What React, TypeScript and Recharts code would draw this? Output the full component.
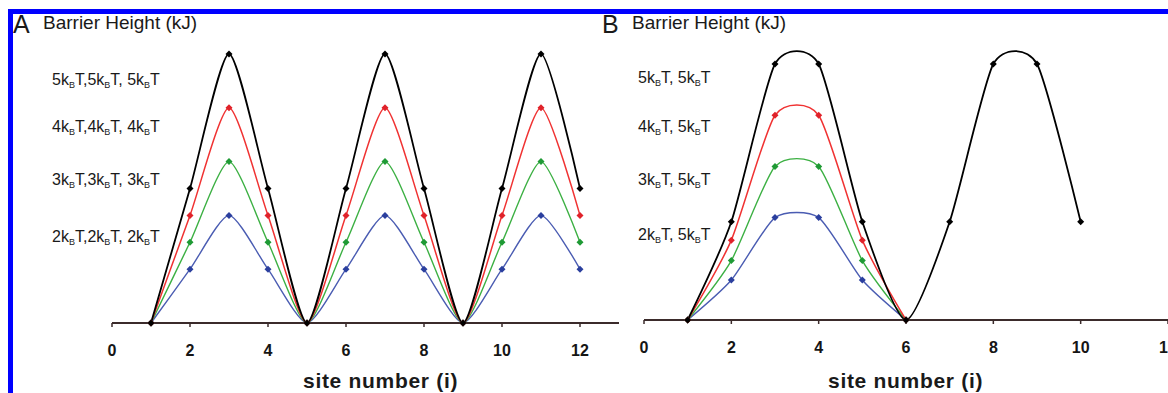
import React from 'react';
import { LineChart, Line, XAxis, YAxis } from 'recharts';

// barrier heights in kJ (kBT ~ 2.5 kJ)
const sitesA = [1, 2, 3, 4, 5, 6, 7, 8, 9, 10, 11, 12];
const blackA = [0, 6.25, 12.5, 6.25, 0, 6.25, 12.5, 6.25, 0, 6.25, 12.5, 6.25];
const redA = [0, 5, 10, 5, 0, 5, 10, 5, 0, 5, 10, 5];
const greenA = [0, 3.75, 7.5, 3.75, 0, 3.75, 7.5, 3.75, 0, 3.75, 7.5, 3.75];
const blueA = [0, 2.5, 5, 2.5, 0, 2.5, 5, 2.5, 0, 2.5, 5, 2.5];

const sitesB = [1, 2, 3, 4, 5, 6, 7, 8, 9, 10];
const blackB = [0, 4.8, 12.5, 12.5, 4.8, 0, 4.8, 12.5, 12.5, 4.8];
const redB = [0, 3.9, 10, 10, 3.9, 0];
const greenB = [0, 2.9, 7.5, 7.5, 2.9, 0];
const blueB = [0, 1.95, 5, 5, 1.95, 0];

const siteTicks = [0, 2, 4, 6, 8, 10, 12];

const barriersA = [[5, 5, 5], [4, 4, 4], [3, 3, 3], [2, 2, 2]];
const barriersB = [[5, 5], [4, 5], [3, 5], [2, 5]];

const dataA = sitesA.map((site, i) => ({
  site,
  black: blackA[i],
  red: redA[i],
  green: greenA[i],
  blue: blueA[i]
}));

const dataB = sitesB.map((site, i) => ({
  site,
  black: blackB[i],
  red: redB[i],
  green: greenB[i],
  blue: blueB[i]
}));

const SERIES = [
  { key: 'blue', line: '#4a5cb2', dot: '#2b3f9e', width: 1.4 },
  { key: 'green', line: '#3cb043', dot: '#1f9a35', width: 1.4 },
  { key: 'red', line: '#f03232', dot: '#e0222a', width: 1.5 },
  { key: 'black', line: '#000000', dot: '#000000', width: 1.8 }
];

const AXIS = '#3b2b2b';
const FONT = '"Liberation Sans", Arial, sans-serif';

// spreadsheet-style smoothed line (cardinal spline)
function smoothCurve(tension: number) {
  const k = (1 - tension) / 6;
  return (context: any) => {
    let x0 = NaN, y0 = NaN, x1 = NaN, y1 = NaN, x2 = NaN, y2 = NaN;
    let count = 0;
    const seg = (x: number, y: number) => {
      context.bezierCurveTo(
        x1 + k * (x2 - x0), y1 + k * (y2 - y0),
        x2 + k * (x1 - x), y2 + k * (y1 - y),
        x2, y2
      );
    };
    return {
      areaStart() {},
      areaEnd() {},
      lineStart() {
        x0 = x1 = x2 = y0 = y1 = y2 = NaN;
        count = 0;
      },
      lineEnd() {
        if (count === 2) context.lineTo(x2, y2);
        else if (count === 3) seg(x1, y1);
      },
      point(xv: number, yv: number) {
        const x = +xv;
        const y = +yv;
        if (count === 0) {
          count = 1;
          context.moveTo(x, y);
        } else if (count === 1) {
          count = 2;
          x1 = x;
          y1 = y;
        } else {
          count = 3;
          seg(x, y);
        }
        x0 = x1; x1 = x2; x2 = x;
        y0 = y1; y1 = y2; y2 = y;
      }
    };
  };
}

const curve = smoothCurve(0.34);

const diamond = (fill: string, r = 3.5) => (p: any) => {
  const { cx, cy, index } = p;
  if (cx == null || cy == null || isNaN(cy)) return <g key={`d-${index}`} />;
  return (
    <path
      key={`d-${index}`}
      d={`M${cx},${cy - r}L${cx + r},${cy}L${cx},${cy + r}L${cx - r},${cy}Z`}
      fill={fill}
    />
  );
};

function KT({ n }: { n: number }) {
  return (
    <span>
      {n}k
      <span style={{ fontSize: 9, position: 'relative', top: 3 }}>B</span>T
    </span>
  );
}

function BarrierLabel({ values, seps }: { values: number[]; seps: string[] }) {
  return (
    <>
      {values.map((v, i) => (
        <React.Fragment key={i}>
          {i > 0 && seps[i - 1]}
          <KT n={v} />
        </React.Fragment>
      ))}
    </>
  );
}

function Panel({
  data, domain, left, width, margin
}: {
  data: any[];
  domain: number[];
  left: number;
  width: number;
  margin: { top: number; right: number; bottom: number; left: number };
}) {
  return (
    <div style={{ position: 'absolute', left, top: 14 }}>
      <LineChart width={width} height={379} data={data} margin={margin}>
        <XAxis
          type="number"
          dataKey="site"
          domain={domain}
          ticks={siteTicks}
          interval={0}
          allowDataOverflow
          height={30}
          tickSize={4}
          tickMargin={18}
          axisLine={{ stroke: AXIS, strokeWidth: 2 }}
          tickLine={{ stroke: AXIS, strokeWidth: 1.5 }}
          tick={{ fill: '#151515', fontSize: 16, fontWeight: 'bold', fontFamily: FONT }}
        />
        <YAxis hide type="number" domain={[0, 13]} />
        {SERIES.map(s => (
          <Line
            key={s.key}
            dataKey={s.key}
            type={curve as any}
            stroke={s.line}
            strokeWidth={s.width}
            dot={diamond(s.dot)}
            activeDot={false}
            isAnimationActive={false}
          />
        ))}
      </LineChart>
    </div>
  );
}

const textBase: React.CSSProperties = {
  position: 'absolute',
  whiteSpace: 'nowrap',
  fontFamily: FONT,
  color: '#1a1a1a'
};

const titleStyle: React.CSSProperties = {
  ...textBase,
  top: 370,
  fontSize: 21,
  lineHeight: '21px',
  fontWeight: 'bold',
  letterSpacing: 0.7
};

const rowsA = [80, 127, 180, 237];
const rowsB = [78, 127, 180, 235];

export default function App() {
  return (
    <div
      style={{
        position: 'fixed',
        left: 0,
        top: 0,
        width: 1168,
        height: 393,
        overflow: 'hidden',
        background: '#ffffff',
        fontFamily: FONT
      }}
    >
      <Panel
        data={dataA}
        domain={[0, 13]}
        left={60}
        width={580}
        margin={{ top: 29.2, right: 21, bottom: 40, left: 52 }}
      />
      <Panel
        data={dataB}
        domain={[0, 12]}
        left={600}
        width={620}
        margin={{ top: 39.8, right: 52, bottom: 43, left: 44 }}
      />

      {/* panel A texts */}
      <div style={{ ...textBase, left: 13, top: 12, fontSize: 25, lineHeight: '25px' }}>A</div>
      <div style={{ ...textBase, left: 43, top: 12.5, fontSize: 19, lineHeight: '19px' }}>
        Barrier Height (kJ)
      </div>
      {barriersA.map((vals, i) => (
        <div key={i} style={{ ...textBase, left: 52, top: rowsA[i] - 8, fontSize: 16, lineHeight: '16px' }}>
          <BarrierLabel values={vals} seps={[',', ', ']} />
        </div>
      ))}
      <div style={{ ...titleStyle, left: 303 }}>site number (i)</div>

      {/* panel B texts */}
      <div style={{ ...textBase, left: 602, top: 12, fontSize: 25, lineHeight: '25px' }}>B</div>
      <div style={{ ...textBase, left: 632, top: 12.5, fontSize: 19, lineHeight: '19px' }}>
        Barrier Height (kJ)
      </div>
      {barriersB.map((vals, i) => (
        <div key={i} style={{ ...textBase, left: 638, top: rowsB[i] - 8, fontSize: 16, lineHeight: '16px' }}>
          <BarrierLabel values={vals} seps={[', ']} />
        </div>
      ))}
      <div style={{ ...titleStyle, left: 828 }}>site number (i)</div>

      {/* blue frame */}
      <div style={{ position: 'absolute', left: 8, top: 9, width: 1160, height: 5, background: '#0000ff' }} />
      <div style={{ position: 'absolute', left: 8, top: 9, width: 5, height: 384, background: '#0000ff' }} />
    </div>
  );
}
